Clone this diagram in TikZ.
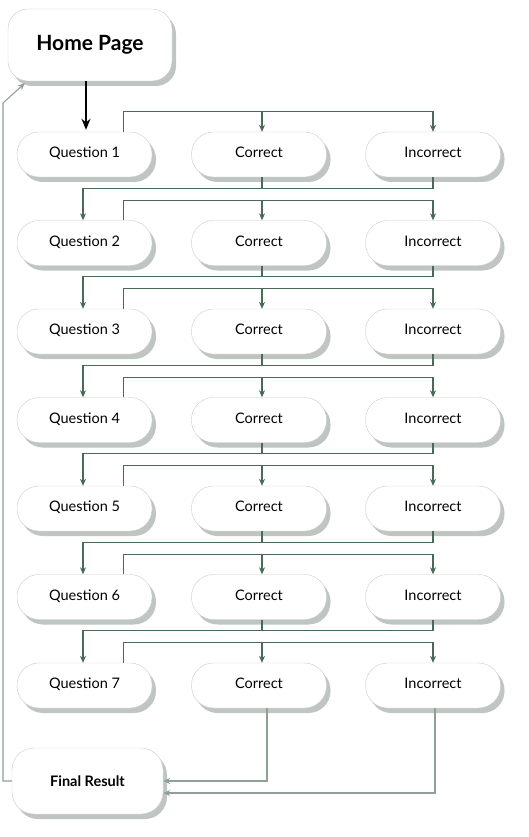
\documentclass[tikz,border=0pt]{standalone}
\usepackage{fontspec}
\setmainfont{Lato}
\usetikzlibrary{arrows.meta,positioning,calc,shadows}
\definecolor{linkgreen}{HTML}{4A6A58}
\definecolor{linklight}{HTML}{8DA295}
\definecolor{boxgray}{HTML}{CCCCCC}
\definecolor{shadowgreen}{HTML}{5E6E62}

\begin{document}
\begin{tikzpicture}[x=1pt,y=-1pt,
    box/.style={draw=boxgray, fill=white, inner sep=0pt,
        drop shadow={shadow xshift=4pt, shadow yshift=-5pt, fill=shadowgreen, opacity=0.4}},
    pill/.style={box, rounded corners=22pt, minimum width=135pt, minimum height=45pt,
        text depth=4pt, font=\fontsize{14.5}{16}\selectfont},
    link/.style={draw=linkgreen, line width=1.1pt, -{Stealth[length=7pt,width=6pt]}},
    backlink/.style={link, draw=linklight}]
    \useasboundingbox (0,0) rectangle (529,837);

    % Home page
    \node[box, rounded corners=20pt, minimum width=164pt, minimum height=72pt,
        font=\fontsize{21}{24}\selectfont\bfseries] (home) at (90,45) {Home Page};

    % Question rows
    \foreach \i in {1,...,7} {
        \pgfmathsetmacro\rowy{154.5+(\i-1)*88.5}
        \node[pill] (q\i) at (84.5,\rowy) {Question \i};
        \node[pill] (c\i) at (259,\rowy) {Correct};
        \node[pill] (w\i) at (433,\rowy) {Incorrect};
    }

    % Final result
    \node[box, rounded corners=22pt, minimum width=151pt, minimum height=66pt,
        font=\fontsize{14.5}{16}\selectfont\bfseries] (final) at (87.5,781) {Final Result};

    % Start
    \draw[-{Stealth[length=11pt,width=9pt]}, line width=2pt]
        ([xshift=-4pt]home.south) -- ([xshift=1.5pt,yshift=2pt]q1.north);

    % Answer branches
    \foreach \i in {1,...,7} {
        \draw[link] ([xshift=39pt]q\i.north) -- ++(0,-20) coordinate (b\i) -| (w\i.north);
        \draw[link] ([xshift=3pt]c\i.north |- b\i) -- ([xshift=3pt]c\i.north);
    }

    % Next question
    \foreach \i/\j in {1/2,2/3,3/4,4/5,5/6,6/7} {
        \draw[link] (w\i.south) -- ++(0,11) coordinate (m\i) -| ([xshift=-1.5pt]q\j.north);
        \draw[link, -] ([xshift=3pt]c\i.south) -- ([xshift=3pt]c\i.south |- m\i);
    }

    % To final result
    \draw[backlink] ([xshift=8pt]c7.south) |- (final.east);
    \draw[backlink] ([xshift=2pt]w7.south) |- ([yshift=-12pt]final.east);

    % Back to home page
    \coordinate (turn) at (3,103);
    \draw[backlink] (final.west) -| (turn) -- ([xshift=17pt,yshift=-2pt]home.south west);
\end{tikzpicture}
\end{document}
